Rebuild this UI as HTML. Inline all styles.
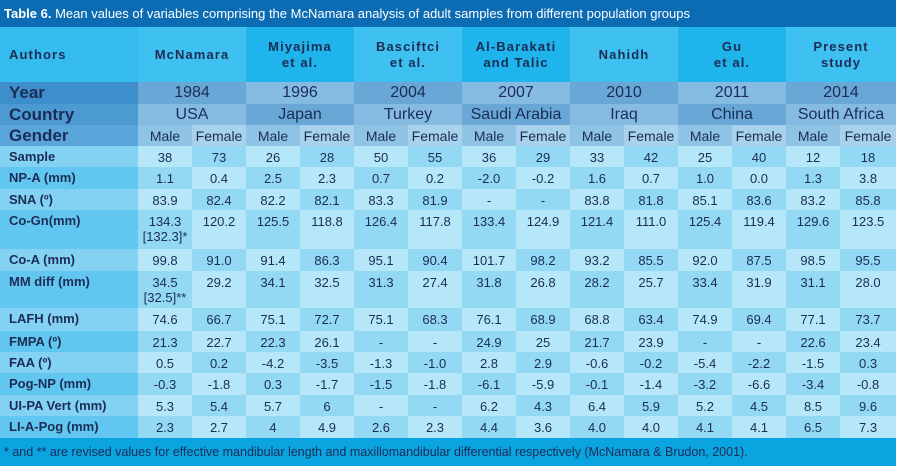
<!DOCTYPE html>
<html><head><meta charset="utf-8"><style>
*{margin:0;padding:0;box-sizing:border-box}
body{width:899px;height:469px;background:#fff;font-family:"Liberation Sans",sans-serif;color:#1b2c55;overflow:hidden}
#title{position:absolute;left:0;top:0;width:896px;height:27px;background:#0b6cb3;color:#fff;font-size:13px;line-height:27px;padding-left:4px}
table{position:absolute;left:0;top:27px;border-collapse:collapse;table-layout:fixed;width:896px}
td{padding:0;text-align:center;font-size:13px;overflow:hidden;white-space:nowrap}
td.lab{text-align:left;padding-left:9px;font-weight:bold;font-size:13px}
tr.auth td{height:55px;font-weight:bold;font-size:13px;letter-spacing:1.1px;line-height:16px}
tr.big td{font-size:16px}
tr.big td.lab{font-size:17px}
tr.d td{vertical-align:top;padding-top:4px}
tr.d td.lab{padding-top:4px}
#foot{position:absolute;left:0;top:438px;width:896px;height:28px;background:#0aa4e1;font-size:12.5px;line-height:28px;padding-left:4px;color:#1b2c55}
</style></head><body>
<div id="title"><b>Table 6.</b> Mean values of variables comprising the McNamara analysis of adult samples from different population groups</div>
<table id="t">
<colgroup><col style="width:138px"><col span="13" style="width:54px"><col style="width:56px"></colgroup>
<tbody id="tb"></tbody></table>
<div id="foot">* and ** are revised values for effective mandibular length and maxillomandibular differential respectively (McNamara &amp; Brudon, 2001).</div>
<script>
const authors=["McNamara","Miyajima<br>et al.","Basciftci<br>et al.","Al-Barakati<br>and Talic","Nahidh","Gu<br>et al.","Present<br>study"];
const years=["1984","1996","2004","2007","2010","2011","2014"];
const countries=["USA","Japan","Turkey","Saudi Arabia","Iraq","China","South Africa"];
const rows=[
["Sample",["38","73","26","28","50","55","36","29","33","42","25","40","12","18"],21],
["NP-A (mm)",["1.1","0.4","2.5","2.3","0.7","0.2","-2.0","-0.2","1.6","0.7","1.0","0.0","1.3","3.8"],22],
["SNA (º)",["83.9","82.4","82.2","82.1","83.3","81.9","-","-","83.8","81.8","85.1","83.6","83.2","85.8"],21],
["Co-Gn(mm)",["134.3<br>[132.3]*","120.2","125.5","118.8","126.4","117.8","133.4","124.9","121.4","111.0","125.4","119.4","129.6","123.5"],39],
["Co-A (mm)",["99.8","91.0","91.4","86.3","95.1","90.4","101.7","98.2","93.2","85.5","92.0","87.5","98.5","95.5"],22],
["MM diff (mm)",["34.5<br>[32.5]**","29.2","34.1","32.5","31.3","27.4","31.8","26.8","28.2","25.7","33.4","31.9","31.1","28.0"],37],
["LAFH (mm)",["74.6","66.7","75.1","72.7","75.1","68.3","76.1","68.9","68.8","63.4","74.9","69.4","77.1","73.7"],23],
["FMPA (º)",["21.3","22.7","22.3","26.1","-","-","24.9","25","21.7","23.9","-","-","22.6","23.4"],21],
["FAA (º)",["0.5","0.2","-4.2","-3.5","-1.3","-1.0","2.8","2.9","-0.6","-0.2","-5.4","-2.2","-1.5","0.3"],21],
["Pog-NP (mm)",["-0.3","-1.8","0.3","-1.7","-1.5","-1.8","-6.1","-5.9","-0.1","-1.4","-3.2","-6.6","-3.4","-0.8"],22],
["UI-PA Vert (mm)",["5.3","5.4","5.7","6","-","-","6.2","4.3","6.4","5.9","5.2","4.5","8.5","9.6"],21],
["LI-A-Pog (mm)",["2.3","2.7","4","4.9","2.6","2.3","4.4","3.6","4.0","4.0","4.1","4.1","6.5","7.3"],22]
];
const tb=document.getElementById('tb');
function cell(tr,html,bg,cls,span){const td=document.createElement('td');td.innerHTML=html;td.style.background=bg;if(cls)td.className=cls;if(span)td.colSpan=span;tr.appendChild(td);return td;}
function hdr(cls,h,label,labBg,items,bgA,bgB,name){
 const tr=document.createElement('tr');tr.className=cls;tr.style.height=h+'px';
 
 
 const l=cell(tr,label,labBg,'lab');
 
 
 items.forEach((it,i)=>{const c=cell(tr,it,i%2?bgB:bgA,null,2);
 
 });
 tb.appendChild(tr);}
hdr('auth',55,'Authors','#35bcef',authors,'#3ec1f1','#1fb4ec','authors-row');
hdr('big',22,'Year','#3d8ecb',years,'#69a7d7','#86bbe1','year-row');
hdr('big',21,'Country','#4b9ad2',countries,'#86bbe1','#69a7d7','country-row');
{const tr=document.createElement('tr');tr.className='big';tr.style.height='21px';


const l=cell(tr,'Gender','#5aa6da','lab');
for(let i=0;i<14;i++){const c=cell(tr,i%2?'Female':'Male',i%2?'#a8d1ec':'#8fc3e5');c.style.fontSize='14px';

}
tb.appendChild(tr);}
rows.forEach((r,ri)=>{const tr=document.createElement('tr');tr.className='d';tr.style.height=r[2]+'px';


const l=cell(tr,r[0],ri%2?'#62c7f0':'#84d2f3','lab');
l.style.lineHeight='14px';
r[1].forEach((v,ci)=>{const c=cell(tr,v,(ri+ci)%2?'#93d9f4':'#b5e7f9');c.style.lineHeight='15px';

});
tb.appendChild(tr);});
</script>
</body></html>
